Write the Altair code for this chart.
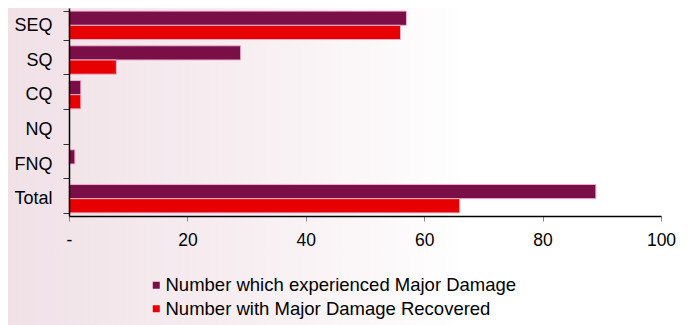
import altair as alt
import pandas as pd

categories = ["SEQ", "SQ", "CQ", "NQ", "FNQ", "Total"]
major_damage = [57, 29, 2, 0, 1, 89]
recovered = [56, 8, 2, 0, 0, 66]
series = ["Number which experienced Major Damage", "Number with Major Damage Recovered"]
series_colors = ["#7a0f48", "#e60000"]
x_ticks = [0, 20, 40, 60, 80, 100]

rows = []
for c, m, r in zip(categories, major_damage, recovered):
    rows.append({"region": c, "series": series[0], "value": m})
    rows.append({"region": c, "series": series[1], "value": r})
df = pd.DataFrame(rows)

W, H = 592, 208
FONT = "Liberation Sans"

bg = alt.Chart(pd.DataFrame({"a": [0]})).mark_rect(
    color=alt.Gradient(
        gradient="linear",
        x1=0, x2=1, y1=0, y2=0,
        stops=[
            alt.GradientStop(offset=0, color="#f0e1e7"),
            alt.GradientStop(offset=0.35, color="#f7eef2"),
            alt.GradientStop(offset=0.68, color="#ffffff"),
            alt.GradientStop(offset=1, color="#ffffff"),
        ],
    )
).encode(
    x=alt.value(-61), x2=alt.value(W + 23),
    y=alt.value(-8), y2=alt.value(H + 109),
)

bars = alt.Chart(df).transform_filter("datum.value > 0").mark_bar(
    stroke="#eab3cb", strokeWidth=1
).encode(
    y=alt.Y("region:N", sort=categories, title=None,
            scale=alt.Scale(domain=categories, paddingInner=0.18, paddingOuter=0.09),
            axis=alt.Axis(tickBand="extent", domainColor="#000000", domainWidth=1.5,
                          tickColor="#333333", tickSize=6, labelFontSize=18,
                          labelColor="#000000", labelPadding=11, labelFont=FONT,
                          zindex=2)),
    yOffset=alt.YOffset("series:N", sort=series, scale=alt.Scale(domain=series, paddingInner=0)),
    x=alt.X("value:Q", title=None,
            scale=alt.Scale(domain=[0, 100], nice=False),
            axis=alt.Axis(values=x_ticks, grid=False, domainColor="#000000", domainWidth=1.5,
                          tickColor="#888888", tickSize=5, labelFontSize=17.5,
                          labelColor="#000000", labelPadding=10, labelFont=FONT,
                          labelFlush=False, labelOverlap=False,
                          labelExpr="datum.value == 0 ? '-' : datum.label",
                          zindex=2)),
    color=alt.Color("series:N", sort=series,
                    scale=alt.Scale(domain=series, range=series_colors),
                    legend=alt.Legend(title=None, orient="none", legendX=78, legendY=268,
                                      symbolType="square", symbolSize=49, symbolStrokeWidth=0,
                                      labelFontSize=18.5, labelFont=FONT, labelColor="#000000",
                                      labelOffset=0, rowPadding=4.5, padding=0, labelLimit=600,
                                      zindex=2)),
)

chart = alt.layer(bg, bars).properties(
    width=W, height=H,
    autosize=alt.AutoSizeParams(type="none"),
    padding={"left": 61, "top": 0, "right": 23, "bottom": 109},
).configure_view(stroke=None).configure(background="#ffffff")

chart.save("out.html", embed_options={"renderer": "svg", "actions": False})
